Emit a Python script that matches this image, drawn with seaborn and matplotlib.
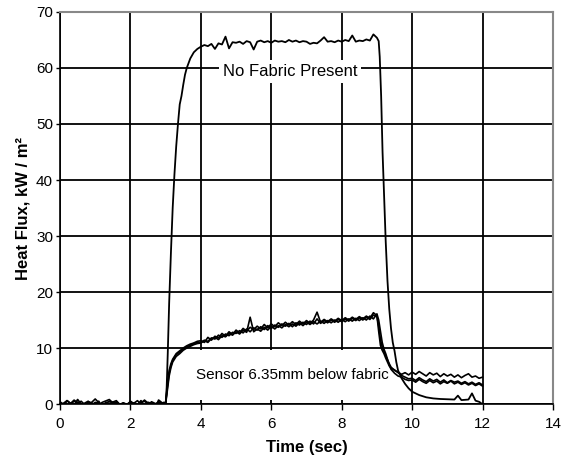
import matplotlib
matplotlib.use("Agg")
import matplotlib.pyplot as plt
import seaborn as sns
import pandas as pd

# ---- data ----
# "No Fabric Present" curve
nf_time = [0.0, 0.1, 0.2, 0.3, 0.4, 0.5, 0.6, 0.7, 0.8, 0.9,
           1.0, 1.1, 1.2, 1.3, 1.4, 1.5, 1.6, 1.7, 1.8, 1.9,
           2.0, 2.1, 2.2, 2.3, 2.4, 2.5, 2.6, 2.7, 2.8, 2.9,
           3.0, 3.03, 3.06, 3.1, 3.15, 3.2, 3.25, 3.3, 3.35, 3.4,
           3.45, 3.5, 3.55, 3.6, 3.7, 3.8, 3.9,
           4.0, 4.1, 4.2, 4.3, 4.4, 4.5, 4.6, 4.7, 4.8, 4.9,
           5.0, 5.1, 5.2, 5.3, 5.4, 5.5, 5.6, 5.7, 5.8, 5.9,
           6.0, 6.1, 6.2, 6.3, 6.4, 6.5, 6.6, 6.7, 6.8, 6.9,
           7.0, 7.1, 7.2, 7.3, 7.4, 7.5, 7.6, 7.7, 7.8, 7.9,
           8.0, 8.1, 8.2, 8.3, 8.4, 8.5, 8.6, 8.7, 8.8, 8.9,
           9.0, 9.05, 9.08, 9.12, 9.16, 9.2, 9.25, 9.3, 9.35, 9.4,
           9.45, 9.5, 9.55, 9.6, 9.7, 9.8, 9.9,
           10.0, 10.2, 10.4, 10.6, 10.8, 11.0, 11.2, 11.3, 11.4, 11.6,
           11.7, 11.8, 11.9, 11.95, 12.0]
nf_flux = [0.3, -0.4, 0.6, 0.1, -0.3, 0.8, 0.0, -0.5, 0.4, 0.2,
           -0.2, 0.5, -0.6, 0.3, 0.1, -0.3, 0.4, -0.1, 0.2, -0.4,
           0.5, 0.0, -0.2, 0.6, -0.5, 0.3, 0.1, -0.9, 0.7, 0.2,
           0.0, 3.0, 9.0, 18.0, 27.0, 35.0, 41.0, 46.0, 50.0, 53.5,
           55.0, 57.0, 58.8, 60.0, 61.7, 62.8, 63.4,
           63.8, 64.1, 63.9, 64.3, 63.4, 64.4, 64.2, 65.6, 63.5, 64.6,
           64.5, 64.7, 64.3, 64.8, 64.6, 63.3, 64.7, 64.9, 64.6, 64.8,
           64.5, 64.9, 64.7, 64.8, 64.6, 65.0, 64.7, 64.9, 64.6, 64.8,
           64.7, 64.3, 64.5, 64.4, 64.9, 65.5, 64.7, 64.8, 64.6, 64.9,
           64.7, 65.0, 64.8, 65.8, 64.7, 64.9, 64.8, 65.1, 64.9, 66.0,
           65.4, 64.8, 62.0, 55.0, 45.0, 38.0, 29.0, 22.0, 17.0, 13.5,
           11.0, 9.5, 7.5, 6.0, 4.6, 3.6, 2.8,
           2.2, 1.6, 1.2, 1.0, 0.9, 0.85, 0.8, 1.5, 0.7, 0.8,
           1.9, 0.6, 0.4, 0.2, -0.2]

# three sensor runs (6.35 mm below fabric), shared time base
sensor_time = [0.0, 0.2, 0.4, 0.6, 0.8, 1.0, 1.2, 1.4, 1.6, 1.8,
               2.0, 2.2, 2.4, 2.6, 2.8, 2.95,
               3.0, 3.05, 3.1, 3.15, 3.2, 3.3, 3.4, 3.5, 3.6, 3.7, 3.8, 3.9,
               4.0, 4.1, 4.2, 4.3, 4.4, 4.5, 4.6, 4.7, 4.8, 4.9,
               5.0, 5.1, 5.2, 5.3, 5.4, 5.5, 5.6, 5.7, 5.8, 5.9,
               6.0, 6.1, 6.2, 6.3, 6.4, 6.5, 6.6, 6.7, 6.8, 6.9,
               7.0, 7.1, 7.2, 7.3, 7.4, 7.5, 7.6, 7.7, 7.8, 7.9,
               8.0, 8.1, 8.2, 8.3, 8.4, 8.5, 8.6, 8.7, 8.8, 8.9,
               9.0, 9.05, 9.1, 9.15, 9.2, 9.25, 9.3, 9.35, 9.4, 9.5,
               9.6, 9.7, 9.8, 9.9,
               10.0, 10.1, 10.2, 10.3, 10.4, 10.5, 10.6, 10.7, 10.8, 10.9,
               11.0, 11.1, 11.2, 11.3, 11.4, 11.5, 11.6, 11.7, 11.8, 11.9,
               12.0]
sensor_a = [0.4, -0.5, 0.7, -0.2, 0.5, -0.6, 0.3, 0.8, -0.4, 0.2,
            -0.3, 0.6, -0.7, 0.4, -0.2, 0.3,
            0.2, 3.0, 5.5, 6.8, 7.8, 8.8, 9.3, 9.8, 10.2, 10.5, 10.8, 11.0,
            11.0, 11.4, 11.2, 11.8, 11.6, 12.3, 11.9, 12.5, 12.2, 12.8,
            12.6, 13.1, 12.7, 13.4, 12.9, 13.6, 13.2, 13.8, 13.3, 14.0,
            13.5, 14.1, 13.7, 14.3, 13.9, 14.4, 13.8, 14.5, 14.1, 14.6,
            14.2, 14.8, 14.3, 15.2, 14.4, 14.9, 14.5, 15.0, 14.6, 15.1,
            14.7, 15.2, 14.8, 15.3, 14.9, 15.4, 15.0, 15.5, 15.1, 15.9,
            15.6, 14.0, 11.5, 10.2, 9.4, 8.6, 7.9, 7.2, 6.6, 6.0,
            5.7, 5.3, 5.6, 5.2,
            5.7, 5.3, 5.8, 5.4, 5.0, 5.6, 5.2, 5.5, 4.9, 5.4,
            5.0, 5.3, 4.8, 5.2, 4.7, 5.1, 5.4, 4.8, 5.0, 4.6,
            4.8]
sensor_b = [-0.3, 0.6, -0.4, 0.5, -0.7, 0.3, -0.2, 0.5, 0.1, -0.5,
            0.4, -0.3, 0.7, -0.4, 0.2, -0.1,
            0.0, 2.5, 5.0, 6.5, 7.5, 8.5, 9.0, 9.6, 10.0, 10.3, 10.6, 10.8,
            10.9, 11.3, 11.0, 11.7, 11.9, 11.5, 12.2, 12.0, 12.6, 12.3,
            12.9, 12.5, 13.2, 12.8, 15.5, 12.9, 13.4, 13.0, 13.7, 13.2,
            13.9, 13.4, 14.0, 13.6, 14.2, 13.8, 14.3, 13.9, 14.5, 14.0,
            14.6, 14.2, 14.7, 14.3, 14.8, 14.4, 14.9, 14.5, 15.0, 14.6,
            15.1, 14.7, 15.2, 14.8, 15.3, 14.9, 15.4, 15.0, 15.7, 15.2,
            16.1, 15.0, 13.0, 11.0, 9.8, 9.0, 8.0, 7.0, 6.2, 5.5,
            5.0, 4.8, 4.4, 4.2,
            4.3, 3.9, 4.4, 4.0, 3.7, 4.2, 3.8, 4.1, 3.6, 4.0,
            3.7, 4.1, 3.6, 3.9, 3.5, 3.8, 3.4, 3.7, 3.3, 3.6,
            3.2]
sensor_c = [0.2, -0.6, 0.5, 0.0, -0.3, 0.9, -0.4, 0.1, 0.6, -0.8,
            0.3, 0.0, 0.5, -0.5, 0.4, -0.2,
            0.1, 3.5, 6.0, 7.2, 8.0, 9.0, 9.5, 10.0, 10.4, 10.7, 10.9, 11.2,
            11.3, 11.0, 11.9, 11.4, 12.1, 11.8, 12.6, 12.1, 12.9, 12.4,
            13.2, 12.7, 13.5, 13.0, 13.7, 13.3, 13.9, 13.4, 14.2, 13.6,
            14.3, 13.8, 14.5, 14.0, 14.6, 14.1, 14.7, 14.2, 14.8, 14.3,
            14.9, 14.4, 15.0, 16.4, 14.6, 15.1, 14.7, 15.2, 14.8, 15.3,
            14.9, 15.4, 15.0, 15.5, 15.1, 15.6, 15.2, 15.7, 15.3, 16.3,
            15.8, 13.0, 10.5, 9.6, 9.0, 8.2, 7.5, 6.8, 6.4, 6.1,
            5.6, 5.1, 4.8, 4.5,
            4.6, 4.2, 4.7, 4.3, 4.0, 4.5, 4.1, 4.4, 3.9, 4.3,
            3.8, 4.2, 3.9, 4.1, 3.7, 4.0, 3.6, 3.9, 3.5, 3.8,
            3.4]

x_ticks = [0, 2, 4, 6, 8, 10, 12, 14]
y_ticks = [0, 10, 20, 30, 40, 50, 60, 70]

sns.set_style("white")
plt.rcParams["font.family"] = ["Liberation Sans", "DejaVu Sans"]
plt.rcParams["text.color"] = "black"
plt.rcParams["axes.labelcolor"] = "black"
plt.rcParams["xtick.color"] = "black"
plt.rcParams["ytick.color"] = "black"

fig = plt.figure(figsize=(5.66, 4.61), dpi=100)
ax = fig.add_axes([0.106, 0.1236, 0.871, 0.8504])

# grid sits under everything, label boxes above grid but under curves
ax.set_axisbelow(True)
ax.grid(True, color="black", linewidth=1.3)

for y in (sensor_a, sensor_b, sensor_c):
    sns.lineplot(x=sensor_time, y=y, ax=ax, color="black", linewidth=1.2,
                 estimator=None, sort=False, zorder=3)
sns.lineplot(x=nf_time, y=nf_flux, ax=ax, color="black", linewidth=1.3,
             estimator=None, sort=False, zorder=3)

ax.set_xlim(0, 14)
ax.set_ylim(0, 70)
ax.set_xticks(x_ticks)
ax.set_yticks(y_ticks)
ax.tick_params(axis="x", labelsize=11, length=4, width=1, direction="out",
               pad=5, bottom=True)
ax.tick_params(axis="y", labelsize=11, length=3, width=1, direction="out",
               pad=2, left=True)

for side in ("left", "bottom"):
    ax.spines[side].set_color("black")
    ax.spines[side].set_linewidth(1.2)
for side in ("top", "right"):
    ax.spines[side].set_color("#888888")
    ax.spines[side].set_linewidth(1.5)

ax.set_xlabel("Time (sec)", fontsize=12, fontweight="bold", labelpad=7)
ax.set_ylabel("Heat Flux, kW / m²", fontsize=12, fontweight="bold", labelpad=4)

ax.text(6.53, 59.4, "No Fabric Present", fontsize=12, ha="center", va="center",
        zorder=2.5, bbox=dict(facecolor="white", edgecolor="none", pad=3))
ax.text(6.6, 5.2, "Sensor 6.35mm below fabric", fontsize=11, ha="center",
        va="center", zorder=2.5,
        bbox=dict(facecolor="white", edgecolor="none", pad=13))

fig.savefig("out.png", dpi=100)
